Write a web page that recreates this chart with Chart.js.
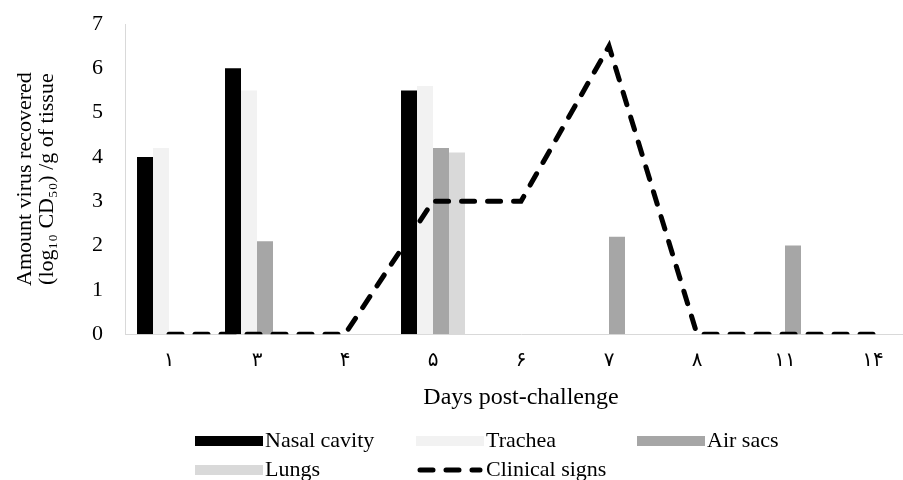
<!DOCTYPE html>
<html>
<head>
<meta charset="utf-8">
<script src="https://cdn.jsdelivr.net/npm/chart.js"></script>
<style>
  body { margin: 0; overflow: hidden; background: #fff; }
  #wrap { width: 920px; height: 480px; }
</style>
</head>
<body>
<div id="wrap"><canvas id="myChart"></canvas></div>
<script>
var days = ["۱", "۳", "۴", "۵", "۶", "۷", "۸", "۱۱", "۱۴"];
var nasalCavity = [4.0, 6.0, 0, 5.5, 0, 0, 0, 0, 0];
var trachea = [4.2, 5.5, 0, 5.6, 0, 0, 0, 0, 0];
var airSacs = [0, 2.1, 0, 4.2, 0, 2.2, 0, 2.0, 0];
var lungs = [0, 0, 0, 4.1, 0, 0, 0, 0, 0];
var clinicalSigns = [0, 0, 0, 3, 3, 6.5, 0, 0, 0];

var serif = "'Liberation Serif', 'DejaVu Sans', serif";

// excel style legend: 3 columns, 2 rows, wide keys
var legendGrid = {
  id: "legendGrid",
  afterDraw: function (chart) {
    var ctx = chart.ctx;
    ctx.save();
    ctx.font = "22px " + serif;
    ctx.textBaseline = "middle";
    chart.data.datasets.forEach(function (ds, i) {
      var x = 265 + (i % 3) * 221;
      var y = 441 + Math.floor(i / 3) * 29;
      if (ds.type === "line") {
        ctx.strokeStyle = ds.borderColor;
        ctx.lineWidth = ds.borderWidth;
        ctx.lineCap = "round";
        ctx.setLineDash(ds.borderDash);
        ctx.beginPath();
        ctx.moveTo(x - 66, y);
        ctx.lineTo(x - 6, y);
        ctx.stroke();
        ctx.setLineDash([]);
      } else {
        ctx.fillStyle = ds.backgroundColor;
        ctx.fillRect(x - 70, y - 5, 68, 10);
      }
      ctx.fillStyle = "#000";
      ctx.fillText(ds.label, x, y);
    });
    ctx.restore();
  }
};

new Chart("myChart", {
  type: "bar",
  data: {
    labels: days,
    datasets: [
      { label: "Nasal cavity", data: nasalCavity, backgroundColor: "#000000", order: 1 },
      { label: "Trachea", data: trachea, backgroundColor: "#f2f2f2", order: 1 },
      { label: "Air sacs", data: airSacs, backgroundColor: "#a6a6a6", order: 1 },
      { label: "Lungs", data: lungs, backgroundColor: "#d9d9d9", order: 1 },
      {
        type: "line", label: "Clinical signs", data: clinicalSigns,
        borderColor: "#000000", borderWidth: 5, borderDash: [13, 13],
        borderCapStyle: "round", pointRadius: 0, tension: 0, fill: false, order: 0
      }
    ]
  },
  options: {
    responsive: true,
    maintainAspectRatio: false,
    animation: false,
    datasets: { bar: { categoryPercentage: 0.727, barPercentage: 1.0 } },
    layout: { padding: { left: 0, right: 3, top: 24, bottom: 68 } },
    plugins: { legend: { display: false }, tooltip: { enabled: false } },
    scales: {
      x: {
        grid: { display: false, drawTicks: false },
        border: { display: true, color: "#d9d9d9", width: 1 },
        ticks: { color: "#000", font: { family: serif, size: 20 }, padding: 15, maxRotation: 0, autoSkip: false },
        title: {
          display: true, text: "Days post-challenge", color: "#000",
          font: { family: serif, size: 24 }, padding: { top: -5, bottom: 0 }
        }
      },
      y: {
        min: 0, max: 7,
        grid: { display: false, drawTicks: false },
        border: { display: true, color: "#d9d9d9", width: 1 },
        ticks: { stepSize: 1, color: "#000", font: { family: serif, size: 22 }, padding: 22 },
        title: {
          display: true, text: ["Amount virus recovered", "(log₁₀ CD₅₀) /g of tissue"], color: "#000",
          font: { family: serif, size: 22, lineHeight: 1.0 }, padding: { top: 14, bottom: 12 }
        },
        // tick padding would otherwise push the plot top down
        afterFit: function (axis) { axis.paddingTop = 0; }
      }
    }
  },
  plugins: [legendGrid]
});
</script>
</body>
</html>
